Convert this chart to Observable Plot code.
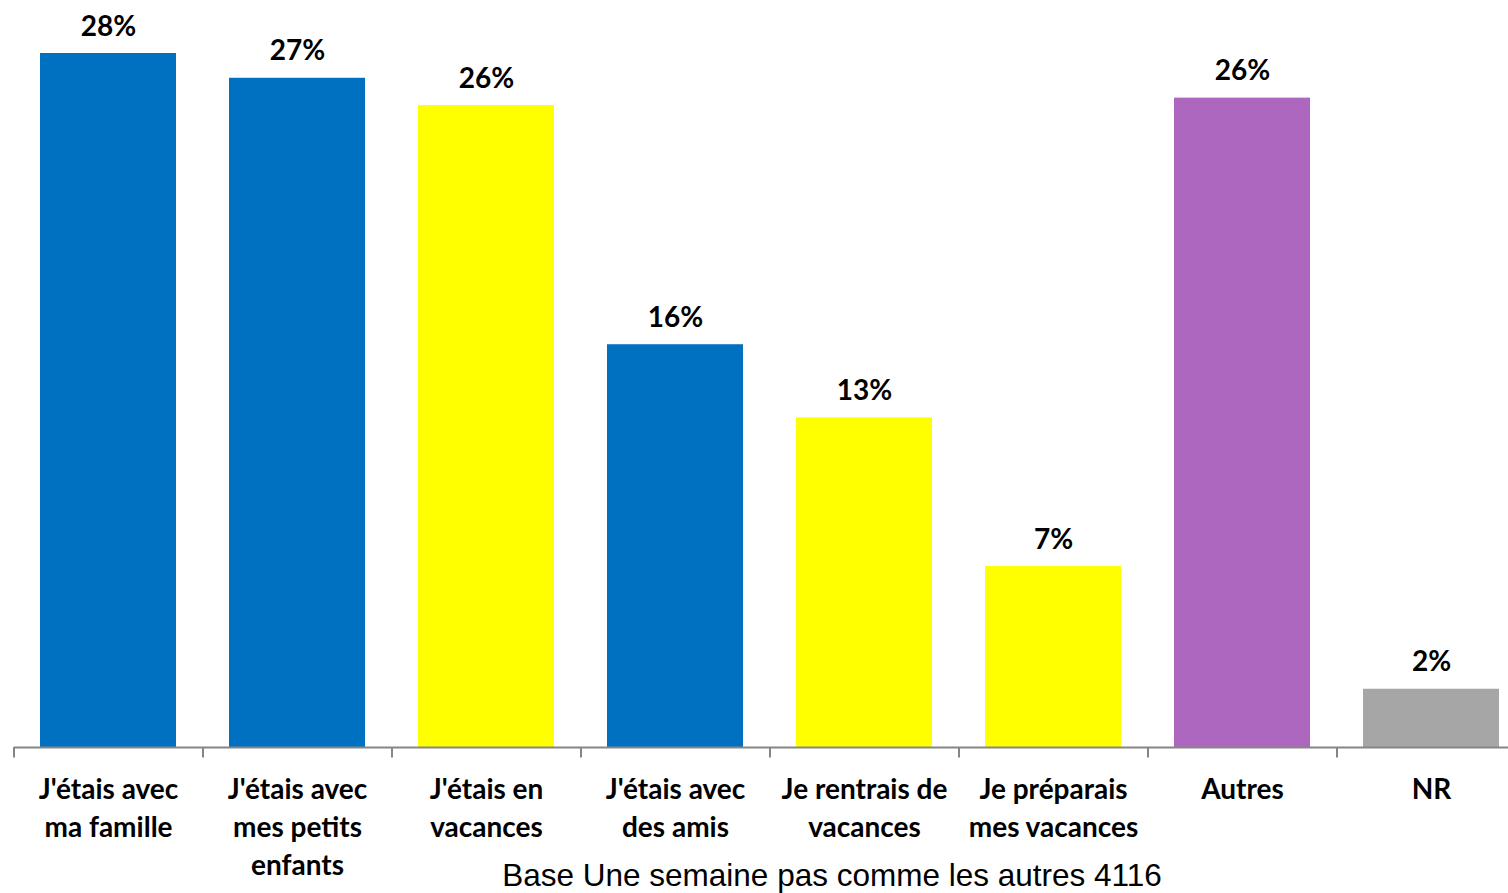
<!DOCTYPE html>
<html>
<head>
<meta charset="utf-8">
<script src="https://cdn.jsdelivr.net/npm/d3@7"></script>
<script src="https://cdn.jsdelivr.net/npm/@observablehq/plot@0.6"></script>
<style>
  html, body { margin: 0; padding: 0; background: #fff; }
  #wrap { position: relative; width: 1508px; height: 893px; overflow: hidden; }
  #caption { position: absolute; left: 832px; top: 858px; transform: translateX(-50%);
    font-family: "Liberation Sans", Arial, sans-serif; font-size: 31.5px; line-height: 34px; color: #000; white-space: nowrap; }
</style>
</head>
<body>
<div id="wrap"><div id="chart"></div><div id="caption"></div></div>
<script>
const categories = ["J'étais avec\nma famille", "J'étais avec\nmes petits\nenfants", "J'étais en\nvacances", "J'étais avec\ndes amis", "Je rentrais de\nvacances", "Je préparais\nmes vacances", "Autres", "NR"];
const values = [28, 27, 25.9, 16.25, 13.3, 7.3, 26.2, 2.35];
const valueLabels = ["28%", "27%", "26%", "16%", "13%", "7%", "26%", "2%"];
const colors = ["#0070C0", "#0070C0", "#FFFF00", "#0070C0", "#FFFF00", "#FFFF00", "#AD67BE", "#A6A6A6"];
const captionText = "Base Une semaine pas comme les autres 4116";

const data = categories.map((c, i) => ({cat: c, value: values[i], label: valueLabels[i], color: colors[i]}));

const font = "Lato, 'Open Sans', sans-serif";
const chart = Plot.plot({
  width: 1508,
  height: 893,
  marginTop: 53,
  marginBottom: 146,
  marginLeft: 14,
  marginRight: 0,
  style: {fontFamily: font, background: "#fff", overflow: "visible"},
  x: {domain: categories, range: [14, 1526], paddingInner: 0.28, paddingOuter: 0.14, axis: null, label: null},
  y: {domain: [0, 28], axis: null},
  marks: [
    Plot.barY(data, {x: "cat", y: "value", fill: "color"}),
    Plot.ruleY([0], {stroke: "#868686", strokeWidth: 2}),
    Plot.ruleX(data, {x: "cat", dx: -94.5, y1: 0, y2: -0.42, stroke: "#868686", strokeWidth: 2}),
    Plot.axisX({tickSize: 0, tickPadding: 24, label: null, fontSize: 28, fontWeight: "bold", lineHeight: 1.37, fill: "#000", fontFamily: font}),
    Plot.text(data, {x: "cat", y: "value", text: "label", lineAnchor: "bottom", dy: -18, fontSize: 28, fontWeight: "bold", fill: "#000", fontFamily: font})
  ]
});
document.getElementById("chart").appendChild(chart);
document.getElementById("caption").textContent = captionText;
</script>
</body>
</html>
